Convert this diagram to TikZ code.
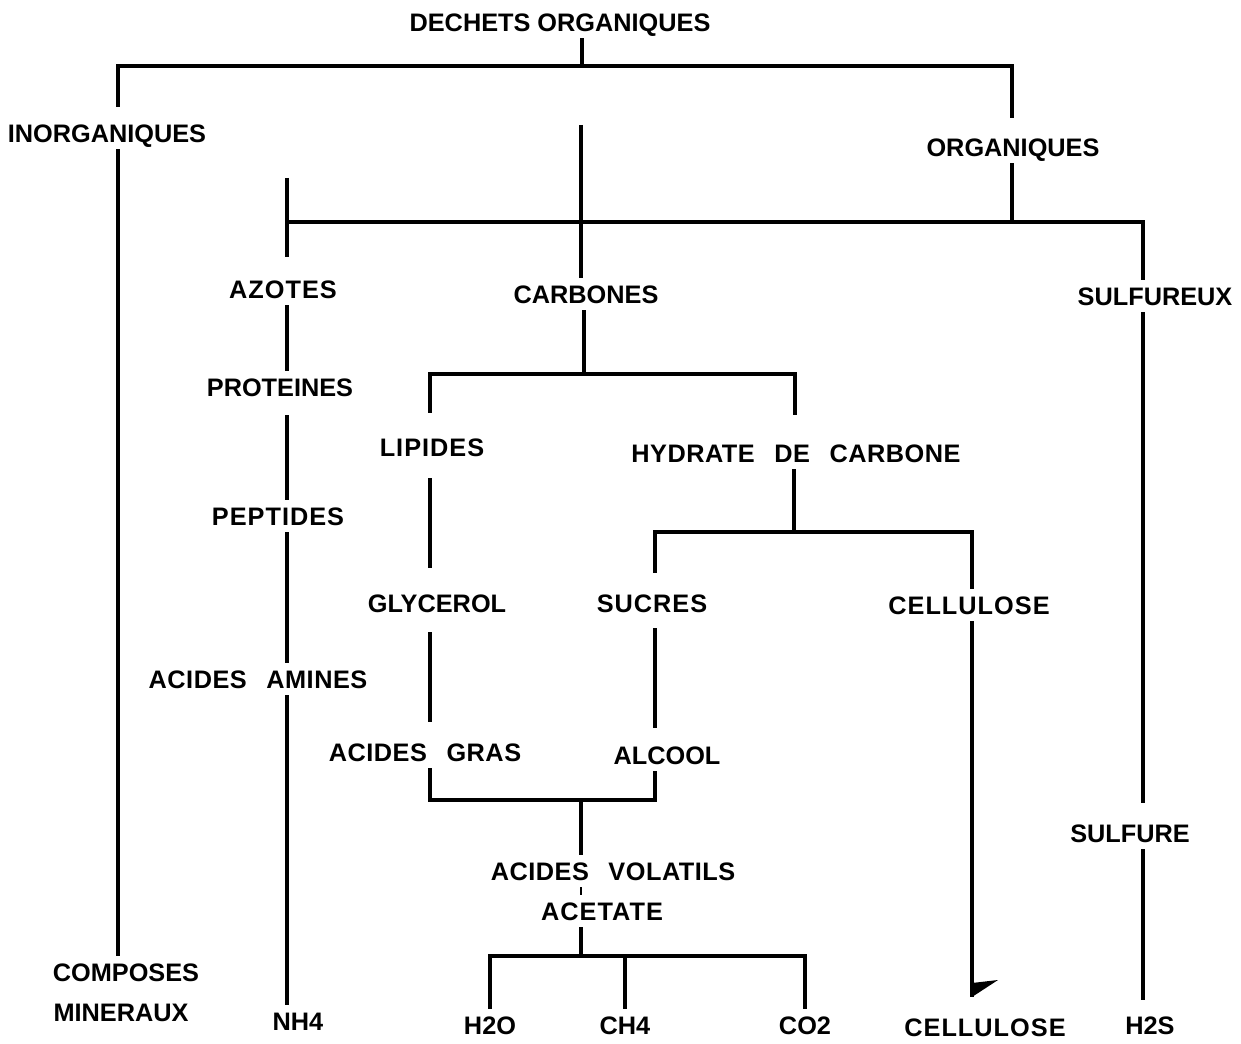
\documentclass[tikz,border=0pt]{standalone}
\usepackage{fontspec}
\setmainfont{Liberation Sans}
\newfontfamily\spaced[WordSpace=2.6,LetterSpace=2]{Liberation Sans}
\newfontfamily\airy[LetterSpace=4]{Liberation Sans}
\usetikzlibrary{positioning}

\begin{document}
\begin{tikzpicture}[x=0.02cm,y=-0.02cm,line width=2.4pt,
  lbl/.style={inner sep=0pt,outer sep=0.14cm,text height=10.3pt,text depth=0pt,font=\bfseries\fontsize{14.4}{17}\selectfont},
  wide/.style={lbl,font=\spaced\bfseries\fontsize{14.4}{17}\selectfont},
  airy/.style={lbl,font=\airy\bfseries\fontsize{14.4}{17}\selectfont},
  thinline/.style={line width=1.8pt}]
\useasboundingbox (0,0) rectangle (1241,1044);

% labels
\node[lbl] (dechets) at (560,22) {DECHETS ORGANIQUES};
\node[lbl] (inorg) at (107,133) {INORGANIQUES};
\node[lbl] (org) at (1013,147) {ORGANIQUES};
\node[airy] (azotes) at (283,289) {AZOTES};
\node[lbl] (carbones) at (586,294) {CARBONES};
\node[lbl] (sulfureux) at (1155,296) {SULFUREUX};
\node[lbl] (proteines) at (280,387) {PROTEINES};
\node[airy] (lipides) at (432,447) {LIPIDES};
\node[wide] (hydrate) at (796,453) {HYDRATE DE CARBONE};
\node[airy] (peptides) at (278,516) {PEPTIDES};
\node[lbl] (glycerol) at (437,603) {GLYCEROL};
\node[airy] (sucres) at (652,603) {SUCRES};
\node[airy] (cellulose) at (969,605) {CELLULOSE};
\node[wide] (amines) at (258,679) {ACIDES AMINES};
\node[wide] (gras) at (425,752) {ACIDES GRAS};
\node[lbl] (alcool) at (667,755) {ALCOOL};
\node[lbl] (sulfure) at (1130,833) {SULFURE};
\node[wide] (volatils) at (613,871) {ACIDES VOLATILS};
\node[airy] (acetate) at (602,911) {ACETATE};
\node[lbl] (composes) at (126,972) {COMPOSES};
\node[lbl,below=0.16cm of composes,xshift=-0.1cm] (mineraux) {MINERAUX};
\node[lbl] (nh4) at (298,1021) {NH4};
\node[lbl] (h2o) at (490,1025) {H2O};
\node[lbl] (ch4) at (625,1025) {CH4};
\node[lbl] (co2) at (805,1025) {CO2};
\node[airy] (cellbas) at (985,1027) {CELLULOSE};
\node[lbl] (h2s) at (1150,1025) {H2S};

% junctions and columns
\coordinate (b1) at (582,66);
\coordinate (lA) at (118,0);
\coordinate (rA) at (1012,0);
\coordinate (c0) at (581,125);
\coordinate (a0) at (287,178);
\coordinate (b2) at (1012,222);
\coordinate (sA) at (1143,0);
\coordinate (c3) at (584,374);
\coordinate (lB) at (430,0);
\coordinate (hB) at (795,0);
\coordinate (b4) at (794,532);
\coordinate (sB) at (655,0);
\coordinate (kB) at (972,0);
\coordinate (j5) at (581,800);
\coordinate (j6) at (581,956);
\coordinate (k1) at (972,997);

% top split
\draw (dechets.south -| b1) -- (b1);
\draw[shorten <=0.2cm,shorten >=0.26cm] (inorg.north -| lA) |- (b1) -| (org.north -| rA);
\draw[thinline] (inorg.south -| lA) -- (composes.north -| lA);
\draw (c0) -- (carbones.north -| c0);
\draw (org.south -| b2) -- (b2);
\draw[shorten >=0.32cm] (a0) -- (azotes.north -| a0);
\draw (a0 |- b2) -| (sulfureux.north -| sA);

% azotes
\draw (azotes.south -| a0) -- (proteines.north -| a0);
\draw[shorten <=0.24cm] (proteines.south -| a0) -- (peptides.north -| a0);
\draw (peptides.south -| a0) -- (amines.north -| a0);
\draw[thinline] (amines.south -| a0) -- (nh4.north -| a0);

% carbones
\draw (carbones.south -| c3) -- (c3);
\draw[shorten <=0.36cm,shorten >=0.44cm] (lipides.north -| lB) |- (c3) -| (hydrate.north -| hB);
\draw[shorten <=0.3cm,shorten >=0.38cm] (lipides.south -| lB) -- (glycerol.north -| lB);
\draw[shorten <=0.26cm,shorten >=0.28cm] (glycerol.south -| lB) -- (gras.north -| lB);
\draw (hydrate.south -| b4) -- (b4);
\draw[shorten <=0.28cm] (sucres.north -| sB) |- (b4) -| (cellulose.north -| kB);
\draw[shorten <=0.18cm,shorten >=0.22cm] (sucres.south -| sB) -- (alcool.north -| sB);
\draw (gras.south -| lB) -- (lB |- j5) -| (alcool.south -| sB);
\draw (j5) -- (volatils.north -| j5);
\draw[line width=1.6pt] (volatils.south -| j5) -- (acetate.north -| j5);
\draw (acetate.south -| j6) -- (j6);
\draw (h2o.north) |- (j6) -| (co2.north);
\draw (ch4.north) -- (ch4.north |- j6);
\draw (cellulose.south -| kB) -- (k1);
\fill (k1) -- ++(0,-14) -- ++(26,-3) -- cycle;

% sulfureux
\draw[shorten >=0.28cm] (sulfureux.south -| sA) -- (sulfure.north -| sA);
\draw[shorten >=0.18cm] (sulfure.south -| sA) -- (h2s.north -| sA);
\end{tikzpicture}
\end{document}
